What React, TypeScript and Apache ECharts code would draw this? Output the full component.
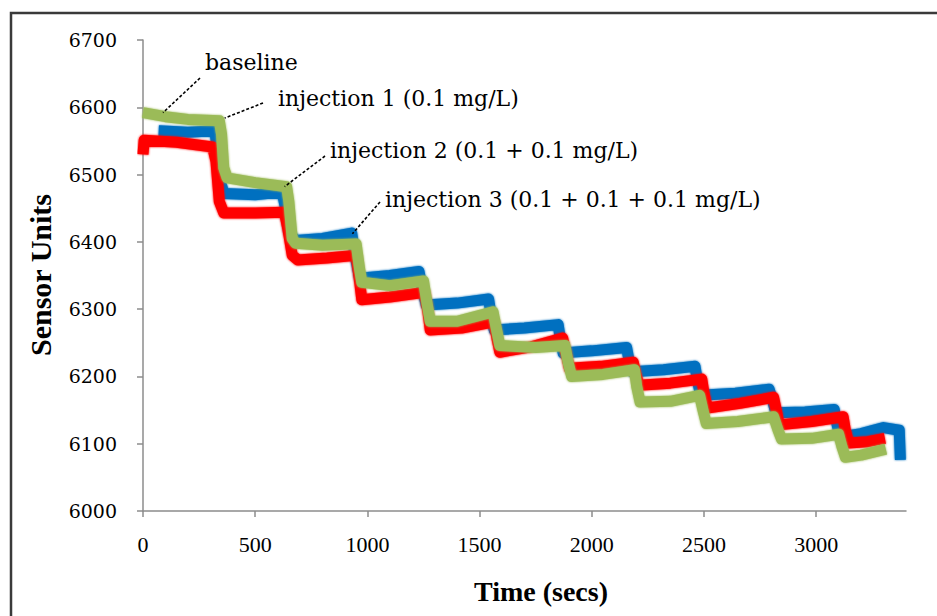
import React, { useEffect, useRef } from "react";
import * as echarts from "echarts";

// Time (secs) vs sensor reading for three replicate runs
const blueRun: [number, number][] = [
  [70, 6565], [200, 6563], [320, 6565], [330, 6540], [345, 6490], [360, 6472],
  [500, 6470], [620, 6474], [635, 6450], [650, 6415], [680, 6402], [800, 6405],
  [930, 6413], [945, 6380], [965, 6346], [1100, 6350], [1230, 6356], [1245, 6330],
  [1262, 6306], [1400, 6309], [1540, 6315], [1552, 6290], [1565, 6269], [1700, 6272],
  [1850, 6277], [1860, 6255], [1872, 6235], [2000, 6238], [2155, 6243], [2165, 6225],
  [2180, 6207], [2320, 6210], [2460, 6215], [2470, 6195], [2485, 6172], [2640, 6175],
  [2790, 6181], [2805, 6165], [2820, 6146], [2950, 6147], [3080, 6151], [3092, 6130],
  [3105, 6110], [3200, 6115], [3300, 6124], [3370, 6120], [3375, 6076],
];

const redRun: [number, number][] = [
  [0, 6530], [5, 6551], [150, 6548], [310, 6541], [325, 6520], [340, 6460],
  [360, 6443], [500, 6443], [630, 6444], [645, 6420], [665, 6380], [690, 6373],
  [820, 6376], [950, 6380], [962, 6350], [975, 6314], [1100, 6318], [1255, 6325],
  [1268, 6300], [1280, 6269], [1420, 6272], [1565, 6281], [1578, 6255], [1590, 6236],
  [1730, 6244], [1870, 6257], [1885, 6235], [1900, 6212], [2040, 6215], [2185, 6221],
  [2195, 6205], [2210, 6187], [2350, 6190], [2490, 6196], [2500, 6175], [2515, 6153],
  [2660, 6160], [2810, 6169], [2822, 6150], [2835, 6128], [2980, 6133], [3120, 6140],
  [3130, 6120], [3145, 6101], [3230, 6103], [3306, 6108],
];

const greenRun: [number, number][] = [
  [0, 6592], [100, 6586], [200, 6582], [340, 6580], [350, 6560], [360, 6510],
  [375, 6495], [500, 6488], [640, 6482], [650, 6460], [665, 6405], [680, 6398],
  [800, 6395], [950, 6397], [965, 6360], [975, 6340], [1100, 6335], [1250, 6342],
  [1265, 6310], [1280, 6282], [1400, 6282], [1560, 6296], [1575, 6270], [1590, 6246],
  [1750, 6243], [1880, 6246], [1895, 6220], [1910, 6200], [2050, 6203], [2190, 6210],
  [2200, 6185], [2215, 6162], [2350, 6163], [2480, 6172], [2495, 6150], [2510, 6130],
  [2650, 6133], [2810, 6140], [2830, 6120], [2845, 6107], [2980, 6108], [3100, 6114],
  [3115, 6095], [3130, 6080], [3200, 6083], [3310, 6092],
];

const timeTicks = [0, 500, 1000, 1500, 2000, 2500, 3000];

// Callouts: label text, the data point the leader touches, and where the text sits
const callouts = [
  { text: "baseline", at: [89, 6592], lineFrom: [200, 78], textPos: [205, 62] },
  { text: "injection 1 (0.1 mg/L)", at: [364, 6584], lineFrom: [263, 103], textPos: [278, 98] },
  { text: "injection 2 (0.1 + 0.1 mg/L)", at: [631, 6482], lineFrom: [325, 156], textPos: [330, 150] },
  { text: "injection 3 (0.1 + 0.1 + 0.1 mg/L)", at: [933, 6412], lineFrom: [380, 202], textPos: [385, 199] },
];

const AXIS_GREY = "#8c8c8c";

export default function App() {
  const ref = useRef<HTMLDivElement>(null);

  useEffect(() => {
    document.body.style.margin = "0";
    const chart = echarts.init(ref.current!, null, { renderer: "svg" });

    const band = (name: string, color: string, data: [number, number][]) => ({
      name,
      type: "line",
      data,
      showSymbol: false,
      symbol: "none",
      lineStyle: { color, width: 11, join: "round", cap: "butt", shadowColor: color, shadowBlur: 2 },
      emphasis: { disabled: true },
    });

    chart.setOption({
      animation: false,
      backgroundColor: "#ffffff",
      grid: { left: 143, top: 40, right: 31, bottom: 105, containLabel: false },
      xAxis: {
        type: "value",
        min: 0,
        max: 3400,
        interval: 500,
        splitLine: { show: false },
        axisLine: { lineStyle: { color: AXIS_GREY, width: 1.5 } },
        axisTick: { length: 6, lineStyle: { color: AXIS_GREY, width: 1.5 }, customValues: timeTicks },
        axisLabel: {
          customValues: timeTicks,
          formatter: (v: number) => String(v),
          margin: 22,
          color: "#000",
          fontFamily: "Liberation Serif",
          fontSize: 22,
        },
      },
      yAxis: {
        type: "value",
        min: 6000,
        max: 6700,
        interval: 100,
        splitLine: { show: false },
        axisLine: { show: true, lineStyle: { color: AXIS_GREY, width: 1.5 } },
        axisTick: { show: true, length: 6, lineStyle: { color: AXIS_GREY, width: 1.5 } },
        axisLabel: {
          formatter: (v: number) => String(v),
          margin: 26,
          color: "#000",
          fontFamily: "DejaVu Serif",
          fontSize: 19,
        },
      },
      series: [
        band("Run 1", "#0070C0", blueRun),
        band("Run 2", "#FF0000", redRun),
        band("Run 3", "#9BBB59", greenRun),
      ],
    });

    const calloutGraphics: any[] = [];
    callouts.forEach((c) => {
      const p = chart.convertToPixel({ gridIndex: 0 }, c.at) as number[];
      calloutGraphics.push({
        type: "line",
        shape: { x1: c.lineFrom[0], y1: c.lineFrom[1], x2: p[0], y2: p[1] },
        style: { stroke: "#000", lineWidth: 1.6, lineDash: [3, 2] },
        z: 10,
      });
      calloutGraphics.push({
        type: "text",
        x: c.textPos[0],
        y: c.textPos[1],
        style: {
          text: c.text,
          fill: "#000",
          font: "22px 'DejaVu Serif'",
          verticalAlign: "middle",
        },
        z: 10,
      });
    });

    chart.setOption({
      graphic: [
        {
          type: "rect",
          shape: { x: 11, y: 13, width: 1000, height: 1000 },
          style: { fill: "none", stroke: "#3a3a3a", lineWidth: 2.5 },
          silent: true,
        },
        {
          type: "text",
          x: 541,
          y: 591,
          style: {
            text: "Time (secs)",
            fill: "#000",
            font: "bold 28px 'Liberation Serif'",
            align: "center",
            verticalAlign: "middle",
          },
        },
        {
          type: "text",
          x: 40,
          y: 275,
          rotation: Math.PI / 2,
          style: {
            text: "Sensor Units",
            fill: "#000",
            font: "bold 30px 'Liberation Serif'",
            align: "center",
            verticalAlign: "middle",
          },
        },
        ...calloutGraphics,
      ],
    });

    return () => chart.dispose();
  }, []);

  return <div ref={ref} style={{ width: 937, height: 616 }} />;
}
